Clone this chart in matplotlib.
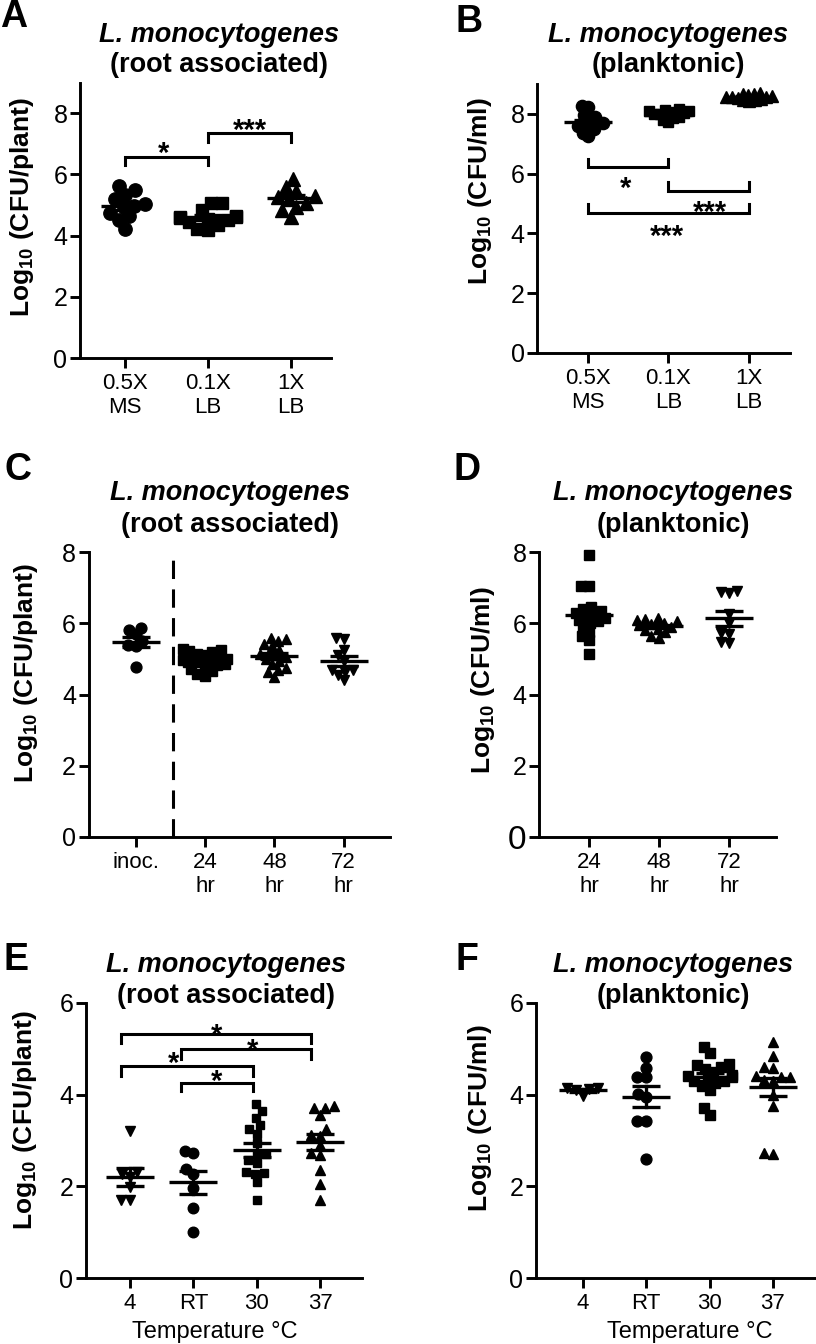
import numpy as np
import matplotlib
matplotlib.use("Agg")
import matplotlib.pyplot as plt

plt.rcParams['font.family'] = ['Liberation Sans', 'DejaVu Sans']
plt.rcParams['mathtext.fontset'] = 'custom'
plt.rcParams['mathtext.rm'] = 'Liberation Sans'
plt.rcParams['mathtext.bf'] = 'Liberation Sans:bold'

# ---- data (log10 CFU) ----
a_labels = ['0.5X\nMS', '0.1X\nLB', '1X\nLB']
a_ms = [5.62, 5.48, 5.33, 5.19, 5.02, 4.98, 4.95, 4.74, 4.64, 4.51, 4.21]
a_lb01 = [5.05, 5.05, 4.85, 4.65, 4.62, 4.6, 4.58, 4.55, 4.5, 4.45, 4.35, 4.22, 4.18]
a_lb1 = [5.85, 5.6, 5.47, 5.3, 5.25, 5.2, 5.06, 4.94, 4.84, 4.62]
a_stars = [(0, 1, '*'), (1, 2, '***')]

b_labels = ['0.5X\nMS', '0.1X\nLB', '1X\nLB']
b_ms = [8.26, 8.24, 7.95, 7.9, 7.85, 7.75, 7.7, 7.68, 7.65, 7.6, 7.55, 7.5, 7.45, 7.35, 7.25]
b_lb01 = [8.15, 8.12, 8.1, 8.08, 8.05, 8.02, 8.0, 7.98, 7.95, 7.9, 7.85, 7.8, 7.72]
b_lb1 = [8.7, 8.68, 8.65, 8.62, 8.6, 8.58, 8.56, 8.55, 8.53, 8.5, 8.48, 8.45, 8.42]
b_stars = [(0, 1, '*'), (1, 2, '***'), (0, 2, '***')]

c_labels = ['inoc.', '24\nhr', '48\nhr', '72\nhr']
c_inoc = [5.87, 5.81, 5.7, 5.5, 5.39, 5.37, 4.77]
c_24 = [5.28, 5.25, 5.22, 5.2, 5.15, 5.1, 5.05, 5.0, 4.98, 4.95, 4.92, 4.9, 4.85,
        4.82, 4.78, 4.72, 4.65, 4.58, 4.52]
c_48 = [5.6, 5.55, 5.5, 5.42, 5.35, 5.25, 5.15, 5.1, 5.05, 5.0, 4.95, 4.85, 4.75,
        4.62, 4.5, 4.7]
c_72 = [5.58, 5.55, 5.25, 5.1, 4.95, 4.7, 4.62, 4.55, 4.4, 4.7]

d_labels = ['24\nhr', '48\nhr', '72\nhr']
d_24 = [7.92, 7.05, 7.05, 6.45, 6.4, 6.35, 6.3, 6.25, 6.2, 6.15, 6.1, 6.05, 6.0,
        5.9, 5.76, 5.65, 5.53, 5.14]
d_48 = [6.15, 6.12, 6.1, 6.05, 6.0, 5.98, 5.95, 5.9, 5.85, 5.8, 5.75, 5.65, 5.6]
d_72 = [6.9, 6.85, 6.88, 6.25, 6.0, 5.72, 5.7, 5.48, 5.45]

e_labels = ['4', 'RT', '30', '37']
e_4 = [3.2, 2.32, 2.28, 2.2, 1.98, 1.7, 1.7]
e_rt = [2.78, 2.72, 2.37, 2.26, 1.96, 1.52, 1.0]
e_30 = [3.8, 3.65, 3.5, 3.33, 3.26, 3.15, 2.94, 2.71, 2.71, 2.57, 2.5, 2.31, 2.29,
        2.28, 2.09, 1.7]
e_37 = [3.75, 3.72, 3.7, 3.55, 3.25, 3.12, 3.1, 2.9, 2.72, 2.68, 2.35, 2.05, 1.7]
e_stars = [(0, 3, '*'), (1, 3, '*'), (0, 2, '*'), (1, 2, '*')]

f_labels = ['4', 'RT', '30', '37']
f_4 = [3.98, 4.1, 4.12, 4.15, 4.15]
f_rt = [4.83, 4.59, 4.39, 4.38, 4.02, 3.94, 3.43, 3.43, 2.59]
f_30 = [5.05, 4.9, 4.68, 4.65, 4.6, 4.55, 4.5, 4.42, 4.38, 4.35, 4.3, 4.3, 4.25,
        4.2, 4.1, 4.4, 3.7, 3.55]
f_37 = [5.14, 4.85, 4.6, 4.58, 4.4, 4.38, 4.38, 4.32, 4.3, 4.0, 3.76, 2.72, 2.7]

W, H = 816, 1344
fig = plt.figure(figsize=(W / 100, H / 100), dpi=100)


def swarm(vals, ppy, d, maxw):
    # simple beeswarm, offsets in pixels
    vals = np.asarray(vals, float)
    xs = np.zeros(len(vals))
    placed = []
    for i in np.argsort(vals):
        y = vals[i] * ppy
        cands = [0.0]
        for px_, py_ in placed:
            dy = abs(py_ - y)
            if dy < d:
                dx = np.sqrt(d * d - dy * dy)
                cands += [px_ - dx, px_ + dx]
        cands.sort(key=abs)
        c = 0.0
        for c in cands:
            if all((c - px_) ** 2 + (y - py_) ** 2 >= d * d - 1e-6 for px_, py_ in placed):
                break
        c = float(np.clip(c, -maxw, maxw))
        placed.append((c, y))
        xs[i] = c
    return xs


def panel(box, xlim, ylim, yticks, xlabels, groups, markers, ms, d, maxw):
    l, r, top, bottom = box
    ax = fig.add_axes([l / W, 1 - bottom / H, (r - l) / W, (bottom - top) / H])
    ax.set_xlim(xlim)
    ax.set_ylim(ylim)
    ppx = (r - l) / (xlim[1] - xlim[0])
    ppy = (bottom - top) / (ylim[1] - ylim[0])
    for i, (vals, mk) in enumerate(zip(groups, markers)):
        off = swarm(vals, ppy, d, maxw)
        size = ms * 0.85 if mk == 's' else ms
        ax.plot(i + off / ppx, vals, ls='none', marker=mk, ms=size, color='black',
                mec='black', clip_on=False, zorder=2)
        m = np.mean(vals)
        s = np.std(vals, ddof=1) / np.sqrt(len(vals))
        mw, cw = 24 / ppx, 14 / ppx
        ax.plot([i - mw, i + mw], [m, m], color='black', lw=2.4, solid_capstyle='butt', zorder=3)
        ax.plot([i, i], [m - s, m + s], color='black', lw=2.4, zorder=3)
        for yy in (m - s, m + s):
            ax.plot([i - cw, i + cw], [yy, yy], color='black', lw=2.4,
                    solid_capstyle='butt', zorder=3)
    for sp in ['top', 'right']:
        ax.spines[sp].set_visible(False)
    for sp in ['left', 'bottom']:
        ax.spines[sp].set_linewidth(2.1)
    ax.set_yticks(yticks)
    ax.set_xticks(range(len(xlabels)))
    ax.set_xticklabels(xlabels)
    ax.tick_params(width=2.1, length=7)
    ax.tick_params(axis='x', pad=4, labelsize=16)
    ax.tick_params(axis='y', pad=2, labelsize=18)
    ax.patch.set_alpha(0)
    return ax, ppy


def bracket(ax, x0, x1, y, leg, label, tx, ty, ppy):
    ax.plot([x0, x0, x1, x1], [y + leg, y, y, y + leg], color='black', lw=2.2,
            solid_joinstyle='miter', clip_on=False)
    # ty is the visual centre of the asterisks
    ax.text(tx, ty - 17 / ppy, label, ha='center', va='baseline', fontsize=21,
            fontweight='bold')


def ftext(x, y, s, **kw):
    fig.text(x / W, 1 - y / H, s, **kw)


ylab_plant = r'Log$_{\mathbf{10}}$ (CFU/plant)'
ylab_ml = r'Log$_{\mathbf{10}}$ (CFU/ml)'

# ---- A ----
ax, ppy = panel((80, 331, 82.6, 358), (-0.54, 2.48), (0, 9), [0, 2, 4, 6, 8], a_labels,
                [a_ms, a_lb01, a_lb1], ['o', 's', '^'], 9.6, 11, 28)
a_geom = [(6.57, -0.27, 0.47, 6.96), (7.36, -0.29, 1.51, 7.7)]
for (i, j, lab), (y, leg, tx, ty) in zip(a_stars, a_geom):
    bracket(ax, i, j, y, leg, lab, tx, ty, ppy)

# ---- B ----
ax, ppy = panel((537, 790, 84, 353), (-0.634, 2.51), (0, 9), [0, 2, 4, 6, 8], b_labels,
                [b_ms, b_lb01, b_lb1], ['o', 's', '^'], 8.8, 6, 25)
b_geom = [(6.23, 0.27, 0.47, 5.8), (5.43, 0.3, 1.52, 5.0), (4.68, 0.3, 0.98, 4.17)]
for (i, j, lab), (y, leg, tx, ty) in zip(b_stars, b_geom):
    bracket(ax, i, j, y, leg, lab, tx, ty, ppy)

# ---- C ----
ax, ppy = panel((88.5, 390, 552, 837), (-0.685, 3.67), (0, 8), [0, 2, 4, 6, 8], c_labels,
                [c_inoc, c_24, c_48, c_72], ['o', 's', '^', 'v'], 7.8, 8, 22)
ax.axvline(0.534, color='black', lw=2.2, ls=(0, (6, 3.4)))

# ---- D ----
ax, ppy = panel((539, 776, 552, 837), (-0.714, 2.67), (0, 8), [0, 2, 4, 6, 8], d_labels,
                [d_24, d_48, d_72], ['s', '^', 'v'], 7.8, 8, 22)
ax.get_yticklabels()[0].set_fontsize(24)

# ---- E ----
ax, ppy = panel((86, 362, 1003, 1278), (-0.695, 3.66), (0, 6), [0, 2, 4, 6], e_labels,
                [e_4, e_rt, e_30, e_37], ['v', 'o', 's', '^'], 7.6, 9, 22)
e_ends = [-0.15, 0.8, 1.94, 2.86]
e_geom = [(5.33, -0.2, 1.37, 5.48), (5.0, -0.22, 1.93, 5.15),
          (4.63, -0.22, 0.68, 4.87), (4.26, -0.17, 1.36, 4.48)]
for (i, j, lab), (y, leg, tx, ty) in zip(e_stars, e_geom):
    bracket(ax, e_ends[i], e_ends[j], y, leg, lab, tx, ty, ppy)

# ---- F ----
ax, ppy = panel((536, 816, 1003, 1278), (-0.74, 3.68), (0, 6), [0, 2, 4, 6], f_labels,
                [f_4, f_rt, f_30, f_37], ['v', 'o', 's', '^'], 7.8, 9, 22)

# ---- panel letters, titles, axis labels ----
for letter, x, y in [('A', 0, 27), ('B', 455, 32), ('C', 5, 480), ('D', 453, 480),
                     ('E', 3, 970), ('F', 456, 970)]:
    ftext(x, y, letter, fontsize=27, fontweight='bold', ha='left', va='baseline')

titles = [(219, 42, 72, '(root associated)'), (668, 42, 72, '(planktonic)'),
          (230, 500, 532, '(root associated)'), (673, 500, 532, '(planktonic)'),
          (226, 972, 1003, '(root associated)'), (673, 972, 1003, '(planktonic)')]
for x, y1, y2, sub in titles:
    ftext(x, y1, 'L. monocytogenes', fontsize=19.5, fontweight='bold', style='italic',
          ha='center', va='baseline')
    ftext(x, y2, sub, fontsize=19.5, fontweight='bold', ha='center', va='baseline')

for x, y, lab in [(22, 207, ylab_plant), (480, 191, ylab_ml), (26, 673, ylab_plant),
                  (483, 680, ylab_ml), (25, 1120, ylab_plant), (480, 1118, ylab_ml)]:
    ftext(x, y, lab, fontsize=19, fontweight='bold', rotation=90, ha='center', va='center')

ftext(215, 1332, 'Temperature °C', fontsize=17, ha='center', va='center')
ftext(690, 1332, 'Temperature °C', fontsize=17, ha='center', va='center')

fig.savefig('out.png', dpi=100)
